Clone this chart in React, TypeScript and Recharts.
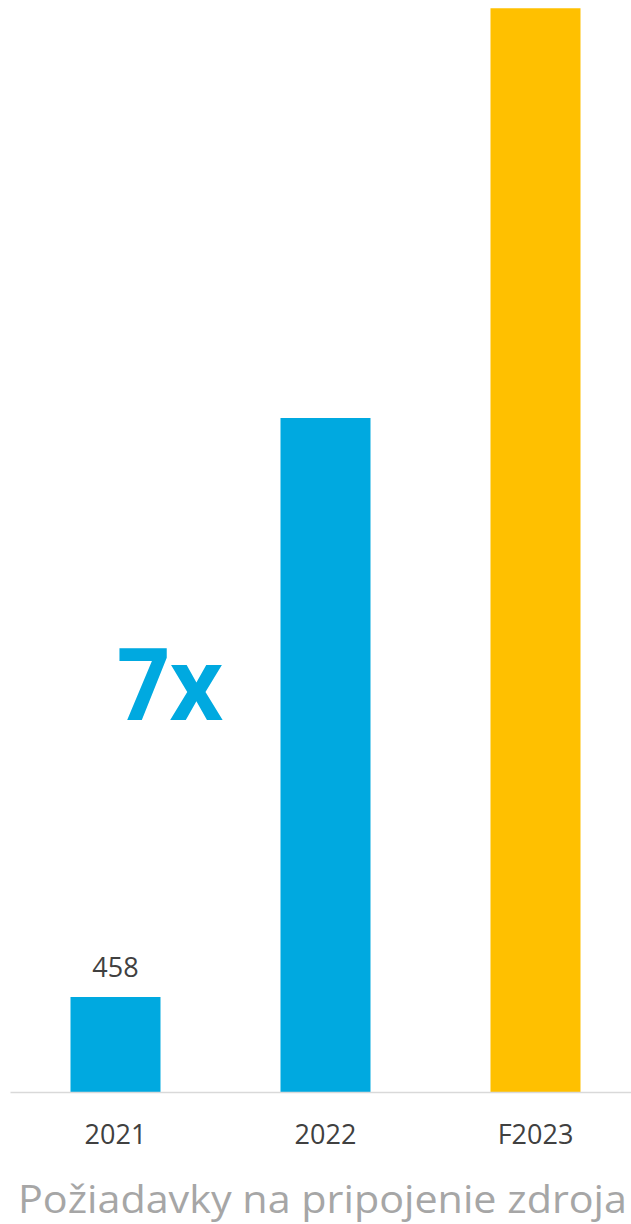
import React from "react";
import { BarChart, Bar, XAxis, YAxis, Cell, LabelList, Customized } from "recharts";

const categories = ["2021", "2022", "F2023"];
const values = [458, 3235, 5200];
const valueLabels = ["458", "", ""];
const barColors = ["#00A9E0", "#00A9E0", "#FFC000"];
const title = "Požiadavky na pripojenie zdroja";
const growthLabel = "7x";

const data = categories.map((c, i) => ({ name: c, value: values[i], label: valueLabels[i] }));

const FONT = "'Open Sans', sans-serif";

const Tick = (props: any) => {
  const { x, y, payload } = props;
  return (
    <text x={x} y={y + 43} textAnchor="middle" fontFamily={FONT} fontSize={27} fill="#404040">
      {payload.value}
    </text>
  );
};

const ValueLabel = (props: any) => {
  const { x, y, width, value } = props;
  if (!value) return null;
  return (
    <text x={x + width / 2} y={y - 20} textAnchor="middle" fontFamily={FONT} fontSize={27} fill="#404040">
      {value}
    </text>
  );
};

const Overlay = () => (
  <g>
    <text x={117} y={720} fontFamily={FONT} fontWeight={700} fontSize={101} fill="#00A9E0" textLength={106} lengthAdjust="spacingAndGlyphs">
      {growthLabel}
    </text>
    <text x={18} y={1213} fontFamily={FONT} fontSize={39} fill="#A6A6A6" textLength={609} lengthAdjust="spacingAndGlyphs">
      {title}
    </text>
  </g>
);

export default function App() {
  return (
    <div style={{ position: "absolute", left: 0, top: 0, width: 631, height: 1224, overflow: "hidden", background: "#fff" }}>
      <BarChart width={641} height={1224} data={data} margin={{ top: 0, right: 0.5, left: 10.5, bottom: 0 }} barCategoryGap={60}>
        <YAxis hide domain={[0, 5240]} />
        <XAxis
          dataKey="name"
          height={131.5}
          tickLine={false}
          axisLine={{ stroke: "#D9D9D9", strokeWidth: 1.5 }}
          tick={<Tick />}
          interval={0}
        />
        <Bar dataKey="value" isAnimationActive={false} barSize={90}>
          {data.map((d, i) => (
            <Cell key={d.name} fill={barColors[i]} />
          ))}
          <LabelList dataKey="label" content={<ValueLabel />} />
        </Bar>
        <Customized component={Overlay} />
      </BarChart>
    </div>
  );
}
